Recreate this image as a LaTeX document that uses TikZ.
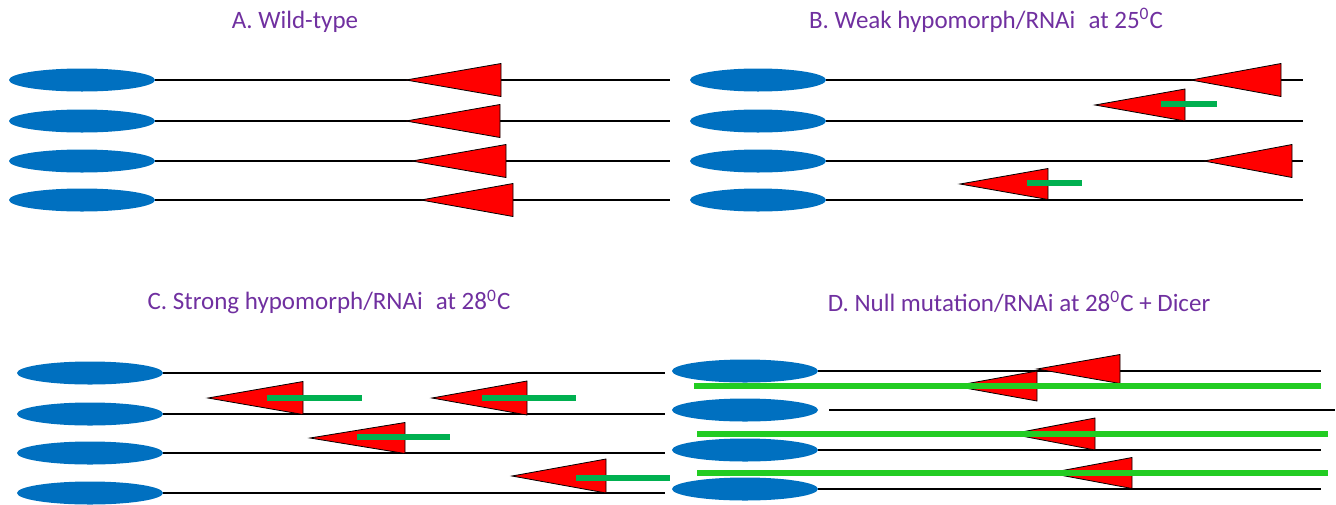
\documentclass[tikz,border=0pt]{standalone}
\usepackage{fontspec}
\setmainfont{Carlito}
\usetikzlibrary{shapes.geometric}
\definecolor{ttl}{HTML}{7030A0}
\definecolor{blob}{HTML}{0070C0}
\definecolor{gbar}{HTML}{00B050}
\definecolor{gline}{HTML}{22CC22}
\tikzset{
  ell/.style={ellipse, fill=blob, inner sep=0pt, minimum width=73pt, minimum height=11.5pt},
  ttlnode/.style={text=ttl, font=\fontsize{12.5}{14}\selectfont, inner sep=0pt},
  strand/.style={black, line width=0.75pt},
  tri/.style={fill=red, draw=black, line width=0.4pt, line join=miter},
  gb/.style={gbar, line width=2.6pt},
  gl/.style={gline, line width=2.6pt}
}
\newcommand\mytri[4]{\draw[tri] (#1,#2) -- (#3,#2-#4) -- (#3,#2+#4) -- cycle;}
\begin{document}
\begin{tikzpicture}[x=0.5pt,y=-0.5pt]
\useasboundingbox (0,0) rectangle (1336,504);
% titles
\node[ttlnode] (tA) at (295,22) {A. Wild-type};
\node[ttlnode] (tB) at (986,20) {B. Weak hypomorph/RNAi\hspace{0.3em} at 25\textsuperscript{0}C};
\node[ttlnode] (tC) at (329,302) {C. Strong hypomorph/RNAi\hspace{0.3em} at 28\textsuperscript{0}C};
\node[ttlnode] (tD) at (1019,302) {D. Null mutation/RNAi at 28\textsuperscript{0}C + Dicer};
% ---------- A ----------
\foreach \i/\y in {1/80,2/121,3/161,4/200}{
  \node[ell] (a\i) at (82,\y) {};
  \coordinate (ae\i) at (670,\y);
  \draw[strand] (a\i.east) -- (ae\i);
}
\mytri{406}{80}{501}{16.5}
\mytri{406}{121}{500}{16.5}
\mytri{412}{161}{506}{16.5}
\mytri{421}{200}{513}{16.5}
% ---------- B ----------
\foreach \i/\y in {1/80,2/121,3/161,4/200}{
  \node[ell, minimum width=68pt] (b\i) at (758,\y) {};
  \coordinate (be\i) at (1303,\y);
  \draw[strand] (b\i.east) -- (be\i);
}
\mytri{1191}{80}{1281}{16.5}
\mytri{1095}{105}{1185}{16}
\mytri{1204}{161}{1292}{16.5}
\mytri{960}{184}{1048}{15.5}
\coordinate (bg1s) at (1161,104); \coordinate (bg1e) at (1217,104);
\coordinate (bg2s) at (1027,183); \coordinate (bg2e) at (1082,183);
\draw[gb] (bg1s) -- (bg1e);
\draw[gb] (bg2s) -- (bg2e);
% ---------- C ----------
\foreach \i/\y in {1/373,2/414,3/453,4/493}{
  \node[ell] (c\i) at (90,\y) {};
  \coordinate (ce\i) at (665,\y);
  \draw[strand] (c\i.east) -- (ce\i);
}
\mytri{208}{398}{303}{16.5}
\mytri{432}{398}{527}{17}
\mytri{310}{438}{405}{15.5}
\mytri{512}{476}{606}{17}
\coordinate (cg1s) at (267,398); \coordinate (cg1e) at (362,398);
\coordinate (cg2s) at (482,398); \coordinate (cg2e) at (576,398);
\coordinate (cg3s) at (357,437); \coordinate (cg3e) at (450,437);
\coordinate (cg4s) at (576,478); \coordinate (cg4e) at (670,478);
\draw[gb] (cg1s) -- (cg1e);
\draw[gb] (cg2s) -- (cg2e);
\draw[gb] (cg3s) -- (cg3e);
\draw[gb] (cg4s) -- (cg4e);
% ---------- D ----------
\node[ell] (d1) at (745,371) {};
\node[ell] (d2) at (745,410) {};
\node[ell] (d3) at (745,450) {};
\node[ell] (d4) at (745,489) {};
\coordinate (de1) at (1321,371);
\coordinate (ds2) at (829,410); \coordinate (de2) at (1335,410);
\coordinate (de3) at (1321,450);
\coordinate (de4) at (1321,489);
\draw[strand] (d1.east) -- (de1);
\draw[strand] (ds2) -- (de2);
\draw[strand] (d3.east) -- (de3);
\draw[strand] (d4.east) -- (de4);
\mytri{1037}{369}{1120}{14.5}
\mytri{954}{386}{1037}{15}
\mytri{1011}{434}{1095}{16}
\mytri{1049}{473}{1132}{15.5}
\coordinate (dg1s) at (694,386); \coordinate (dg1e) at (1321,386);
\coordinate (dg2s) at (697,434); \coordinate (dg2e) at (1328,434);
\coordinate (dg3s) at (697,473); \coordinate (dg3e) at (1328,473);
\draw[gl] (dg1s) -- (dg1e);
\draw[gl] (dg2s) -- (dg2e);
\draw[gl] (dg3s) -- (dg3e);
\end{tikzpicture}
\end{document}
